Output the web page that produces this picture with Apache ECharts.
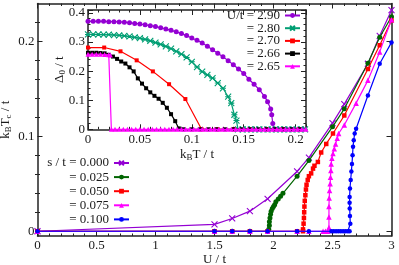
<!DOCTYPE html>
<html><head><meta charset="utf-8">
<script src="https://cdn.jsdelivr.net/npm/echarts@6/dist/echarts.min.js"></script>
<style>html,body{margin:0;padding:0;background:#fff}#c{width:399px;height:265px}</style>
</head><body><div id="c"></div>
<script>
// ---------- main panel: Tc vs U ----------
const mainNames = ['s / t = 0.000', '= 0.025', '= 0.050', '= 0.075', '= 0.100'];
const mainColors = ['#9400d3', '#006400', '#ff0000', '#ff00ff', '#0000ff'];
const s000 = [[0,0],[1.5,0.0072],[1.65,0.0135],[1.8,0.0212],[1.95,0.0342],[2.2,0.063],[2.3,0.0776],[2.5,0.114],[2.6,0.134],[2.8,0.1765],[2.9,0.206],[3.0,0.233]];
const s025 = [[0,0],[1.5,0],[1.65,0],[1.8,0],[1.95,0],[1.96,0.002],[1.965,0.006],[1.965,0.01],[1.97,0.014],[1.975,0.018],[1.98,0.021],[1.99,0.024],[2.0,0.026],[2.01,0.028],[2.02,0.031],[2.04,0.034],[2.06,0.037],[2.08,0.04],[2.2,0.058],[2.3,0.0745],[2.5,0.11],[2.6,0.129],[2.8,0.177],[2.9,0.2045],[3.0,0.226]];
const s050 = [[0,0],[1.5,0],[1.65,0],[1.8,0],[1.95,0],[2.2,0],[2.25,0],[2.25,0.002],[2.255,0.008],[2.258,0.014],[2.26,0.02],[2.262,0.026],[2.265,0.032],[2.27,0.038],[2.275,0.044],[2.28,0.049],[2.29,0.054],[2.3,0.058],[2.319,0.061],[2.335,0.066],[2.347,0.069],[2.376,0.073],[2.404,0.083],[2.447,0.092],[2.504,0.103],[2.6,0.122],[2.8,0.171],[2.9,0.196],[3.0,0.222]];
const s075 = [[0,0],[1.5,0],[1.65,0],[1.8,0],[1.95,0],[2.2,0],[2.3,0],[2.42,0],[2.44,0],[2.46,0],[2.47,0.004],[2.47,0.015],[2.47,0.026],[2.472,0.035],[2.475,0.043],[2.48,0.05],[2.483,0.057],[2.486,0.064],[2.489,0.071],[2.495,0.077],[2.504,0.082],[2.515,0.087],[2.526,0.092],[2.54,0.098],[2.552,0.103],[2.6,0.112],[2.7,0.135],[2.8,0.159],[2.9,0.189],[3.0,0.223]];
const s100 = [[0,0],[1.5,0],[1.65,0],[1.8,0],[1.95,0],[2.2,0],[2.3,0],[2.49,0],[2.51,0],[2.53,0],[2.55,0],[2.57,0],[2.59,0],[2.61,0],[2.63,0],[2.645,0],[2.651,0.008],[2.648,0.016],[2.646,0.024],[2.645,0.03],[2.645,0.036],[2.648,0.045],[2.654,0.054],[2.66,0.063],[2.665,0.071],[2.67,0.08],[2.674,0.089],[2.68,0.096],[2.688,0.103],[2.7,0.108],[2.8,0.143],[2.9,0.1765],[3.0,0.199]];
const mainData = [s000, s025, s050, s075, s100];
const mainYLabels = [0, 0.1, 0.2];
const mainYMinor = [0.02,0.04,0.06,0.08,0.12,0.14,0.16,0.18,0.22];

// ---------- inset: Delta0 vs T ----------
const insetNames = ['U/t = 2.90', '= 2.80', '= 2.70', '= 2.66', '= 2.65'];
const insetColors = ['#9400d3', '#009e73', '#ff0000', '#000000', '#ff00ff'];
const u290 = [[0,0.371],[0.005,0.371],[0.01,0.371],[0.015,0.371],[0.02,0.370],[0.025,0.370],[0.03,0.369],[0.035,0.368],[0.04,0.366],[0.045,0.364],[0.05,0.362],[0.055,0.359],[0.06,0.356],[0.065,0.353],[0.07,0.349],[0.075,0.345],[0.08,0.340],[0.085,0.335],[0.09,0.329],[0.095,0.322],[0.10,0.314],[0.105,0.306],[0.11,0.297],[0.115,0.285],[0.12,0.273],[0.125,0.261],[0.13,0.249],[0.135,0.236],[0.14,0.222],[0.145,0.207],[0.15,0.192],[0.155,0.172],[0.16,0.155],[0.165,0.136],[0.17,0.113],[0.173,0.095],[0.176,0.07],[0.177,0.05],[0.178,0.02],[0.179,0],[0.183,0],[0.187,0],[0.191,0],[0.195,0],[0.199,0],[0.203,0],[0.207,0]];
const u280 = [[0,0.326],[0.005,0.326],[0.01,0.326],[0.015,0.325],[0.02,0.325],[0.025,0.324],[0.03,0.323],[0.035,0.321],[0.04,0.319],[0.045,0.316],[0.05,0.313],[0.055,0.309],[0.06,0.304],[0.065,0.298],[0.07,0.292],[0.075,0.285],[0.08,0.277],[0.085,0.268],[0.09,0.258],[0.095,0.247],[0.10,0.232],[0.105,0.214],[0.11,0.198],[0.115,0.187],[0.12,0.176],[0.125,0.159],[0.13,0.141],[0.135,0.112],[0.138,0.09],[0.141,0.05],[0.143,0.03],[0.1445,0],[0.149,0],[0.153,0],[0.157,0],[0.161,0],[0.165,0],[0.169,0],[0.173,0],[0.177,0],[0.181,0],[0.185,0],[0.189,0],[0.193,0],[0.197,0],[0.201,0],[0.205,0],[0.209,0]];
const u270 = [[0,0.281],[0.0156,0.281],[0.0313,0.268],[0.0469,0.237],[0.0625,0.199],[0.0781,0.155],[0.0938,0.104],[0.1094,0],[0.125,0],[0.1406,0],[0.1563,0],[0.1719,0],[0.1875,0],[0.2031,0]];
const u266 = [[0,0.263],[0.004,0.263],[0.008,0.263],[0.012,0.262],[0.016,0.261],[0.02,0.256],[0.024,0.250],[0.028,0.242],[0.032,0.233],[0.036,0.226],[0.04,0.213],[0.044,0.199],[0.048,0.175],[0.052,0.157],[0.056,0.141],[0.06,0.127],[0.064,0.115],[0.068,0.105],[0.072,0.091],[0.076,0.074],[0.08,0.052],[0.084,0.028],[0.0875,0.003],[0.092,0],[0.1,0],[0.108,0],[0.116,0],[0.124,0],[0.132,0],[0.14,0],[0.148,0],[0.156,0],[0.164,0],[0.172,0],[0.18,0],[0.188,0],[0.196,0],[0.204,0]];
const u265 = [[0,0.258],[0.004,0.258],[0.008,0.258],[0.012,0.258],[0.016,0.257],[0.02,0.256],[0.0215,0.255],[0.0225,0],[0.026,0],[0.03,0],[0.034,0],[0.038,0],[0.042,0],[0.046,0],[0.05,0],[0.054,0],[0.058,0],[0.062,0],[0.066,0],[0.07,0],[0.074,0],[0.078,0],[0.082,0],[0.086,0],[0.09,0],[0.094,0],[0.098,0],[0.102,0],[0.106,0],[0.11,0],[0.114,0],[0.118,0],[0.122,0],[0.126,0],[0.13,0],[0.134,0],[0.138,0],[0.142,0],[0.146,0],[0.15,0],[0.154,0],[0.158,0],[0.162,0],[0.166,0],[0.17,0],[0.174,0],[0.178,0],[0.182,0],[0.186,0],[0.19,0],[0.194,0],[0.198,0],[0.202,0],[0.206,0],[0.21,0]];
const insetData = [u290, u280, u270, u266, u265];

const FONT = 'Liberation Serif';
const TXT = '#1a1a1a';
const AX = '#222';
const CROSS = 'path://M0,0L10,10M10,0L0,10';
const STAR = 'path://M0,0L10,10M10,0L0,10M0,5L10,5';
const mainSymbols = [CROSS, 'circle', 'rect', 'triangle', 'circle'];
const mainSizes = [6, 5, 4.5, 5.5, 4.5];
const insetSymbols = ['circle', STAR, 'rect', 'rect', 'triangle'];
const insetSizes = [5, 6, 4, 4, 5];

const chart = echarts.init(document.getElementById('c'), null, {renderer: 'canvas'});

function axisBase(extra) {
  return Object.assign({
    type: 'value',
    nameMoveOverlap: false,
    axisLine: {show: true, onZero: false, lineStyle: {color: AX, width: 1.5}},
    axisTick: {show: true, inside: true, length: 5, lineStyle: {color: AX, width: 1}},
    minorTick: {show: false},
    splitLine: {show: false},
    axisLabel: {show: false, fontFamily: FONT, fontSize: 13, color: TXT},
    nameTextStyle: {fontFamily: FONT, fontSize: 13, color: TXT}
  }, extra);
}

function symStyle(sym, color) {
  if (typeof sym === 'string' && sym.indexOf('path://') === 0) {
    return {color: 'rgba(0,0,0,0)', borderColor: color, borderWidth: 1.1};
  }
  return {color: color};
}

const subRich = {
  n: {fontFamily: FONT, fontSize: 13, color: TXT},
  sub: {fontFamily: FONT, fontSize: 9, color: TXT, verticalAlign: 'bottom', padding: [6, 0, 0, 0]}
};

const series = [];
mainData.forEach((d, i) => {
  series.push({
    name: mainNames[i], type: 'line', xAxisIndex: 0, yAxisIndex: 0, data: d,
    symbol: mainSymbols[i], symbolSize: mainSizes[i], showAllSymbol: true,
    lineStyle: {color: mainColors[i], width: 1.2},
    itemStyle: symStyle(mainSymbols[i], mainColors[i]),
    emphasis: {disabled: true}, animation: false, z: 3 + i, clip: false
  });
});
insetData.forEach((d, i) => {
  series.push({
    name: insetNames[i], type: 'line', xAxisIndex: 2, yAxisIndex: 2, data: d,
    symbol: insetSymbols[i], symbolSize: insetSizes[i], showAllSymbol: true,
    lineStyle: {color: insetColors[i], width: 1.2},
    itemStyle: symStyle(insetSymbols[i], insetColors[i]),
    emphasis: {disabled: true}, animation: false, z: 3 + i, clip: false
  });
});

const option = {
  backgroundColor: '#fff',
  animation: false,
  textStyle: {fontFamily: FONT},
  grid: [
    {left: 37.5, top: 3.5, right: 7.5, bottom: 29, containLabel: false, outerBoundsMode: 'none'},
    {left: 88, top: 10, right: 93, bottom: 135.7, containLabel: false, outerBoundsMode: 'none'}
  ],
  xAxis: [
    axisBase({gridIndex: 0, position: 'bottom', min: 0, max: 3, interval: 0.5,
      minorTick: {show: true, splitNumber: 5, length: 2.5, lineStyle: {color: AX}},
      axisLabel: {show: true, margin: 3, fontFamily: FONT, fontSize: 13, color: TXT},
      name: 'U / t', nameLocation: 'middle', nameGap: 17}),
    axisBase({gridIndex: 0, position: 'top', min: 0, max: 3, interval: 0.5,
      minorTick: {show: true, splitNumber: 5, length: 2.5, lineStyle: {color: AX}}}),
    axisBase({gridIndex: 1, position: 'bottom', min: 0, max: 0.21, interval: 0.05,
      minorTick: {show: true, splitNumber: 5, length: 2.5, lineStyle: {color: AX}},
      axisLabel: {show: true, margin: 4, fontFamily: FONT, fontSize: 13, color: TXT, showMaxLabel: false},
      name: '{n|k}{sub|B}{n|T / t}', nameLocation: 'middle', nameGap: 18,
      nameTextStyle: {rich: subRich}}),
    axisBase({gridIndex: 1, position: 'top', min: 0, max: 0.21, interval: 0.05,
      minorTick: {show: true, splitNumber: 5, length: 2.5, lineStyle: {color: AX}}})
  ],
  yAxis: [
    axisBase({gridIndex: 0, position: 'left', min: -0.005, max: 0.24,
      axisTick: {show: true, inside: true, length: 5, customValues: mainYLabels, lineStyle: {color: AX}},
      axisLabel: {show: true, margin: 3, fontFamily: FONT, fontSize: 13, color: TXT, customValues: mainYLabels},
      name: '{n|k}{sub|B}{n|T}{sub|c}{n| / t}', nameLocation: 'middle', nameGap: 24,
      nameTextStyle: {rich: subRich}}),
    axisBase({gridIndex: 0, position: 'right', min: -0.005, max: 0.24,
      axisTick: {show: true, inside: true, length: 5, customValues: mainYLabels, lineStyle: {color: AX}}}),
    axisBase({gridIndex: 1, position: 'left', min: 0, max: 0.41, interval: 0.1,
      minorTick: {show: true, splitNumber: 5, length: 2.5, lineStyle: {color: AX}},
      axisLabel: {show: true, margin: 3, fontFamily: FONT, fontSize: 13, color: TXT, showMaxLabel: false},
      name: '{n|Δ}{sub|0}{n| / t}', nameLocation: 'middle', nameGap: 21,
      nameTextStyle: {rich: subRich}}),
    axisBase({gridIndex: 1, position: 'right', min: 0, max: 0.41, interval: 0.1,
      minorTick: {show: true, splitNumber: 5, length: 2.5, lineStyle: {color: AX}}}),
    axisBase({gridIndex: 0, position: 'left', offset: 0, min: -0.005, max: 0.24, axisLine: {show: false},
      axisTick: {show: true, inside: true, length: 2.5, customValues: mainYMinor, lineStyle: {color: AX}}}),
    axisBase({gridIndex: 0, position: 'right', offset: 0, min: -0.005, max: 0.24, axisLine: {show: false},
      axisTick: {show: true, inside: true, length: 2.5, customValues: mainYMinor, lineStyle: {color: AX}}})
  ],
  legend: [
    {
      data: insetNames, orient: 'vertical', align: 'right', left: 224, top: 9,
      padding: 0, itemWidth: 15, itemHeight: 6, itemGap: -0.3,
      formatter: '{t|{name}}',
      textStyle: {fontFamily: FONT, fontSize: 13, color: TXT, rich: {t: {width: 56, height: 12, lineHeight: 12, align: 'right', fontFamily: FONT, fontSize: 13, color: TXT}}},
      selectedMode: false
    },
    {
      data: mainNames, orient: 'vertical', align: 'right', left: 45, top: 156.5,
      padding: 0, itemWidth: 15, itemHeight: 6, itemGap: 1.1,
      formatter: '{t|{name}}',
      textStyle: {fontFamily: FONT, fontSize: 13, color: TXT, rich: {t: {width: 64, height: 12, lineHeight: 12, align: 'right', fontFamily: FONT, fontSize: 13, color: TXT}}},
      selectedMode: false
    }
  ],
  series: series
};
chart.setOption(option);
</script>
</body></html>
